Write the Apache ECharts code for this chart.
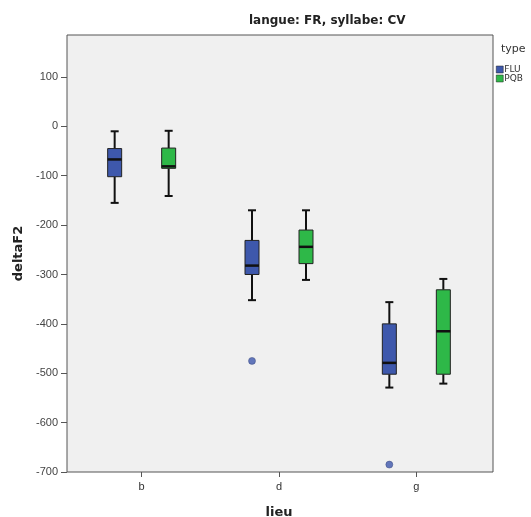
<!DOCTYPE html>
<html>
<head>
<meta charset="utf-8">
<script src="https://cdn.jsdelivr.net/npm/echarts@6/dist/echarts.min.js"></script>
<style>
  html, body { margin: 0; padding: 0; background: #fff; }
  #chart { width: 531px; height: 517px; }
</style>
</head>
<body>
<div id="chart"></div>
<script>
const lieux = ['b', 'd', 'g']
const yTicks = [-700, -600, -500, -400, -300, -200, -100, 0, 100]

// [min, q1, median, q3, max] per lieu
const fluBoxes = [
  [-155, -102, -67, -45, -10],
  [-352, -300, -282, -231, -170],
  [-529, -502, -479, -400, -356]
]
const pqbBoxes = [
  [-141, -85, -81, -44, -9],
  [-311, -278, -244, -210, -170],
  [-521, -502, -415, -331, -309]
]
// outliers: [lieu index, value]
const fluOutliers = [[1, -475], [2, -685]]
const pqbOutliers = []

const fluColor = '#3e58ac'
const pqbColor = '#2eb848'
const font = 'Liberation Sans, Arial, sans-serif'
const boldFont = 'DejaVu Sans, sans-serif'

const chart = echarts.init(document.getElementById('chart'))

const boxRenderer = (offset, color) => (params, api) => {
  const cat = api.value(0)
  const x = api.coord([cat, api.value(3)])[0] + offset
  const y = (i) => api.coord([cat, api.value(i)])[1]
  const bw = 14
  const cw = 8
  const line = (x1, y1, x2, y2, w) => ({
    type: 'line',
    shape: { x1, y1, x2, y2 },
    style: { stroke: '#111', lineWidth: w }
  })
  return {
    type: 'group',
    children: [
      line(x, y(1), x, y(2), 2),
      line(x, y(4), x, y(5), 2),
      line(x - cw / 2, y(1), x + cw / 2, y(1), 2),
      line(x - cw / 2, y(5), x + cw / 2, y(5), 2),
      {
        type: 'rect',
        shape: { x: x - bw / 2, y: y(4), width: bw, height: y(2) - y(4) },
        style: { fill: color, stroke: '#222', lineWidth: 1 }
      },
      line(x - bw / 2, y(3), x + bw / 2, y(3), 2.5)
    ]
  }
}

const toRows = (boxes) => boxes.map((b, i) => [i, ...b])

chart.setOption({
  animation: false,
  textStyle: { fontFamily: font },
  title: [
    {
      text: 'langue: FR, syllabe: CV',
      left: 249,
      top: 15,
      padding: 0,
      textStyle: { fontSize: 12, fontWeight: 'bold', color: '#222', fontFamily: boldFont }
    },
    {
      text: 'type',
      left: 501,
      top: 44,
      padding: 0,
      textStyle: { fontSize: 11, fontWeight: 'normal', color: '#333', fontFamily: boldFont }
    }
  ],
  legend: {
    orient: 'vertical',
    left: 496,
    top: 65,
    padding: 0,
    itemGap: 0,
    itemWidth: 7,
    itemHeight: 7,
    icon: 'rect',
    data: ['FLU', 'PQB'],
    itemStyle: { borderColor: '#222', borderWidth: 0.5 },
    textStyle: { fontSize: 9, lineHeight: 9, color: '#333', padding: [0, 0, 0, -4], fontFamily: boldFont }
  },
  grid: [
    { left: 67, right: 38, top: 35, bottom: 45, outerBoundsMode: 'none', show: true, backgroundColor: '#f0f0f0', borderColor: '#555', borderWidth: 1 },
    { left: 73, width: 412, top: 35, bottom: 45, outerBoundsMode: 'none' }
  ],
  xAxis: [
    { gridIndex: 0, type: 'value', show: false, min: 0, max: 1 },
    {
      gridIndex: 1,
      type: 'category',
      data: lieux,
      name: 'lieu',
      nameLocation: 'middle',
      nameGap: 34,
      nameTextStyle: { fontSize: 13, fontWeight: 'bold', color: '#222', fontFamily: boldFont },
      axisLine: { show: false, onZero: false },
      axisTick: { show: true, alignWithLabel: true, length: 5, lineStyle: { color: '#555' } },
      axisLabel: { fontSize: 11, color: '#333', margin: 9 },
      splitLine: { show: false }
    }
  ],
  yAxis: [
    {
      gridIndex: 0,
      type: 'value',
      min: -700,
      max: 185,
      name: 'deltaF2',
      nameLocation: 'middle',
      nameGap: 42,
      nameTextStyle: { fontSize: 13, fontWeight: 'bold', color: '#222', fontFamily: boldFont },
      axisLine: { show: false, onZero: false },
      axisTick: {
        show: true,
        length: 6,
        lineStyle: { color: '#555' },
        customValues: yTicks
      },
      axisLabel: {
        fontSize: 11,
        color: '#444',
        margin: 9,
        customValues: yTicks
      },
      splitLine: { show: false }
    },
    { gridIndex: 1, type: 'value', min: -700, max: 185, show: false }
  ],
  series: [
    {
      name: 'FLU',
      type: 'custom',
      xAxisIndex: 1,
      yAxisIndex: 1,
      itemStyle: { color: fluColor },
      renderItem: boxRenderer(-27, fluColor),
      encode: { x: 0, y: [1, 2, 3, 4, 5] },
      data: toRows(fluBoxes)
    },
    {
      name: 'PQB',
      type: 'custom',
      xAxisIndex: 1,
      yAxisIndex: 1,
      itemStyle: { color: pqbColor },
      renderItem: boxRenderer(27, pqbColor),
      encode: { x: 0, y: [1, 2, 3, 4, 5] },
      data: toRows(pqbBoxes)
    },
    {
      name: 'FLU',
      type: 'scatter',
      xAxisIndex: 1,
      yAxisIndex: 1,
      symbolSize: 7,
      symbolOffset: [-27, 0],
      itemStyle: { color: fluColor, borderColor: '#2a3a70', borderWidth: 0.5 },
      data: fluOutliers
    },
    {
      name: 'PQB',
      type: 'scatter',
      xAxisIndex: 1,
      yAxisIndex: 1,
      symbolSize: 7,
      symbolOffset: [27, 0],
      itemStyle: { color: pqbColor },
      data: pqbOutliers
    }
  ]
})
</script>
</body>
</html>
